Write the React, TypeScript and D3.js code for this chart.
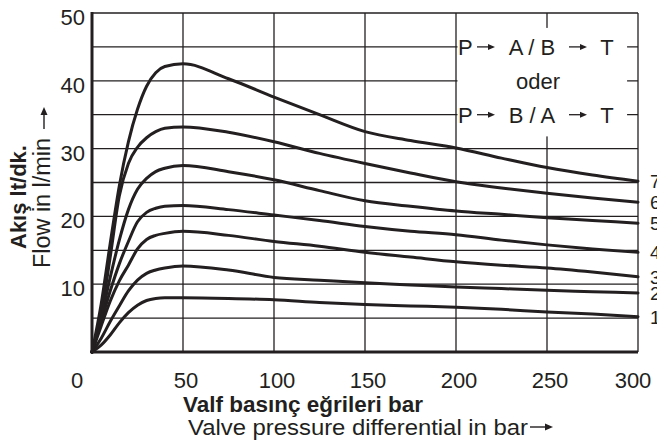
import * as d3 from "d3";

// pressure differential in bar
const pressure = [0, 5, 10, 15, 20, 25, 30, 35, 40, 50, 75, 100, 125, 150, 175, 200, 225, 250, 275, 300];

// flow in l/min, curve 1 (lowest) .. curve 7 (highest)
const flow1 = [0, 1, 2.5, 4.3, 5.8, 6.9, 7.6, 7.9, 8.0, 8.0, 7.9, 7.7, 7.3, 7.0, 6.8, 6.6, 6.3, 5.9, 5.6, 5.2];
const flow2 = [0, 2, 4.5, 6.8, 9, 10.6, 11.6, 12.1, 12.4, 12.7, 12.1, 11.0, 10.6, 10.2, 9.9, 9.6, 9.35, 9.1, 8.9, 8.7];
const flow3 = [0, 3.8, 7.5, 10.5, 12.8, 15.2, 16.6, 17.2, 17.5, 17.8, 17.2, 16.3, 15.6, 14.7, 14.0, 13.3, 12.8, 12.4, 11.8, 11.1];
const flow4 = [0, 4.5, 9, 13, 16.3, 19.2, 20.6, 21.2, 21.5, 21.6, 21.0, 20.2, 19.4, 18.5, 17.8, 17.3, 16.5, 15.8, 15.2, 14.7];
const flow5 = [0, 5, 11, 16.5, 21, 24, 25.6, 26.6, 27.1, 27.5, 26.6, 25.4, 23.8, 22.3, 21.5, 20.8, 20.3, 19.8, 19.4, 19.0];
const flow6 = [0, 5.5, 14, 23, 27.8, 30.2, 31.6, 32.5, 33, 33.2, 32.4, 31.0, 29.3, 27.8, 26.4, 25.1, 24.2, 23.4, 22.7, 22.1];
const flow7 = [0, 7, 16, 24.5, 31, 35.8, 39.2, 41.2, 42.1, 42.5, 40.3, 37.6, 35.0, 32.5, 31.2, 30.1, 28.6, 27.2, 26.1, 25.2];

const curves = [flow1, flow2, flow3, flow4, flow5, flow6, flow7];
const curveLabels = ["1", "2", "3", "4", "5", "6", "7"];

const xTicks = [0, 50, 100, 150, 200, 250, 300];
const yTicks = [10, 20, 30, 40, 50];
const yGrid = [5, 10, 15, 20, 25, 30, 35, 40, 45, 50];

const W = 657;
const H = 441;
const ink = "#231f20";
const font = "Liberation Sans, Arial, Helvetica, sans-serif";

export default function App() {
  const x = d3.scaleLinear().domain([0, 300]).range([92, 638]);
  const y = d3.scaleLinear().domain([0, 50]).range([352, 13]);

  const line = d3
    .line<number>()
    .x((_, i) => x(pressure[i]))
    .y((d) => y(d))
    .curve(d3.curveMonotoneX);

  // little solid-head arrow, horizontal
  const arrow = (x0: number, yy: number, len: number) => (
    <g key={`a${x0}-${yy}`}>
      <line x1={x0} y1={yy} x2={x0 + len - 6} y2={yy} stroke={ink} strokeWidth={1.3} />
      <path d={`M${x0 + len - 7},${yy - 3}L${x0 + len},${yy}L${x0 + len - 7},${yy + 3}Z`} fill={ink} />
    </g>
  );

  const legendY1 = y(45);
  const legendY2 = y(40);
  const legendY3 = y(35);

  return (
    <div style={{ position: "fixed", left: 0, top: 0 }}>
      <svg width={W} height={H} style={{ display: "block", background: "#fff" }} fontFamily={font}>
        {/* grid */}
        <g stroke={ink} strokeWidth={1.3}>
          {yGrid.map((v) => (
            <line key={`h${v}`} x1={x(0)} x2={x(300)} y1={y(v)} y2={y(v)} />
          ))}
          {xTicks.slice(1).map((v) => (
            <line key={`v${v}`} x1={x(v)} x2={x(v)} y1={y(50)} y2={y(0)} />
          ))}
        </g>

        {/* legend box */}
        <rect x={x(200) + 1.5} y={y(47.8)} width={x(294) - x(200) - 1.5} height={y(31.8) - y(47.8)} fill="#fff" />
        <g fontSize={22} fill={ink}>
          <text x={x(200) + 2} y={legendY1} dy="0.36em">P</text>
          {arrow(x(200) + 21, legendY1, 18)}
          <text x={x(200) + 76} y={legendY1} dy="0.36em" textAnchor="middle">A / B</text>
          {arrow(x(200) + 113, legendY1, 18)}
          <text x={x(200) + 151} y={legendY1} dy="0.36em" textAnchor="middle">T</text>

          <text x={x(200) + 82} y={legendY2} dy="0.36em" textAnchor="middle">oder</text>

          <text x={x(200) + 2} y={legendY3} dy="0.36em">P</text>
          {arrow(x(200) + 21, legendY3, 18)}
          <text x={x(200) + 76} y={legendY3} dy="0.36em" textAnchor="middle">B / A</text>
          {arrow(x(200) + 113, legendY3, 18)}
          <text x={x(200) + 151} y={legendY3} dy="0.36em" textAnchor="middle">T</text>
        </g>

        {/* curves */}
        <g fill="none" stroke={ink} strokeWidth={3} strokeLinecap="round" strokeLinejoin="round">
          {curves.map((c, i) => (
            <path key={i} d={line(c) ?? ""} />
          ))}
        </g>

        {/* axes */}
        <line x1={x(0)} x2={x(0)} y1={y(50) - 1} y2={y(0) + 1.5} stroke={ink} strokeWidth={3} />
        <line x1={x(0)} x2={x(300)} y1={y(0)} y2={y(0)} stroke={ink} strokeWidth={3} />

        {/* tick labels */}
        <g fontSize={22} fill={ink}>
          {yTicks.map((v) => (
            <text key={`yt${v}`} x={x(0) - 7} y={y(v) + 12} textAnchor="end">
              {v}
            </text>
          ))}
          {xTicks.map((v) => (
            <text key={`xt${v}`} x={x(v) + (v === 0 ? -15 : v === 300 ? -5 : 3)} y={388} textAnchor="middle">
              {v}
            </text>
          ))}
        </g>

        {/* curve numbers at right edge */}
        <g fontSize={19} fill={ink}>
          {curves.map((c, i) => (
            <text key={`cl${i}`} x={650} y={y(c[c.length - 1])} dy="0.36em">
              {curveLabels[i]}
            </text>
          ))}
        </g>

        {/* axis titles */}
        <text x={183} y={412} fontSize={21.5} fontWeight="bold" fill={ink} textLength={240} lengthAdjust="spacingAndGlyphs">
          Valf basınç eğrileri bar
        </text>
        <text x={188} y={435} fontSize={21.5} fill={ink} textLength={340} lengthAdjust="spacingAndGlyphs">
          Valve pressure differential in bar
        </text>
        <line x1={530} x2={546} y1={427} y2={427} stroke={ink} strokeWidth={1.4} />
        <path d="M545,423.5L553,427L545,430.5Z" fill={ink} />

        <text transform="translate(26,249) rotate(-90)" fontSize={22} fontWeight="bold" fill={ink}>
          Akış lt/dk.
        </text>
        <text transform="translate(50,268) rotate(-90)" fontSize={23} fill={ink} textLength={130} lengthAdjust="spacingAndGlyphs">
          Flow in l/min
        </text>
        <line x1={44} x2={44} y1={129} y2={114} stroke={ink} strokeWidth={1.4} />
        <path d="M40.5,115L44,107L47.5,115Z" fill={ink} />
      </svg>
    </div>
  );
}
